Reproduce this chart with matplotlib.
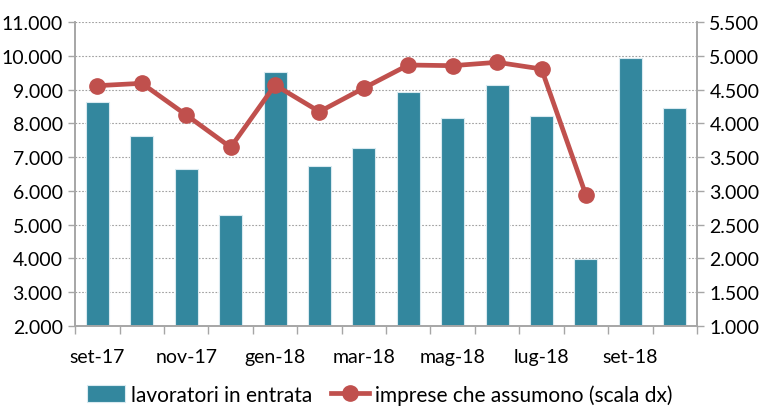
import matplotlib
matplotlib.use('Agg')
import matplotlib.pyplot as plt
import numpy as np

mesi = ['set-17', 'ott-17', 'nov-17', 'dic-17', 'gen-18', 'feb-18', 'mar-18',
        'apr-18', 'mag-18', 'giu-18', 'lug-18', 'ago-18', 'set-18', 'ott-18']
lavoratori = [8640, 7610, 6660, 5280, 9510, 6740, 7280,
              8920, 8160, 9140, 8230, 3990, 9930, 8460]
imprese = [4557, 4592, 4123, 3645, 4567, 4172, 4522,
           4863, 4853, 4903, 4804, 2939]

col_bar = '#33879e'
col_line = '#c0504d'
col_ax = '#a6a6a6'

plt.rcParams['font.family'] = ['Lato', 'DejaVu Sans']
plt.rcParams['font.size'] = 14

fig = plt.figure(figsize=(7.6, 4.1), dpi=100)
ax = fig.add_axes([0.099, 0.2024, 0.818, 0.7416])
ax2 = ax.twinx()

x = np.arange(len(mesi))
ax.bar(x, lavoratori, width=0.52, color=col_bar, edgecolor='#d9eaf0',
       linewidth=0.8, label='lavoratori in entrata', zorder=2)
ax2.plot(np.arange(len(imprese)), imprese, color=col_line, lw=3.4,
         marker='o', ms=11, label='imprese che assumono (scala dx)', zorder=3)

ax.set_xlim(-0.5, len(mesi) - 0.5)
ax.set_ylim(2000, 11000)
ax2.set_ylim(1000, 5500)
ax.set_yticks(np.arange(2000, 11001, 1000))
ax2.set_yticks(np.arange(1000, 5501, 500))

fmt = lambda v, p: f'{int(v):,}'.replace(',', '.')
ax.yaxis.set_major_formatter(matplotlib.ticker.FuncFormatter(fmt))
ax2.yaxis.set_major_formatter(matplotlib.ticker.FuncFormatter(fmt))

ax.grid(axis='y', color='#a0a0a0', linestyle=(0, (1.5, 1.5)), lw=0.8, zorder=0)
ax.set_axisbelow(True)

# tick di categoria ai bordi, etichette ogni due mesi
ax.set_xticks(np.arange(-0.5, len(mesi), 1.0))
ax.set_xticklabels([])
ax.set_xticks(x[::2], minor=True)
ax.set_xticklabels(mesi[::2], minor=True)
ax.tick_params(axis='x', which='major', length=6, color=col_ax, width=1)
ax.tick_params(axis='x', which='minor', length=0, pad=16)

for a in (ax, ax2):
    for s in a.spines.values():
        s.set_color(col_ax)
        s.set_linewidth(1.2)
    a.spines['top'].set_visible(False)
ax.tick_params(axis='y', length=5, color=col_ax, width=1, pad=4)
ax2.tick_params(axis='y', length=5, color=col_ax, width=1, pad=4)

h1, l1 = ax.get_legend_handles_labels()
h2, l2 = ax2.get_legend_handles_labels()
fig.legend(h1 + h2, l1 + l2, loc='lower center', bbox_to_anchor=(0.5, -0.035),
           ncol=2, frameon=False, fontsize=15, handlelength=1.8, handleheight=0.9,
           columnspacing=0.9, handletextpad=0.3)

fig.savefig('out.png', dpi=100)
